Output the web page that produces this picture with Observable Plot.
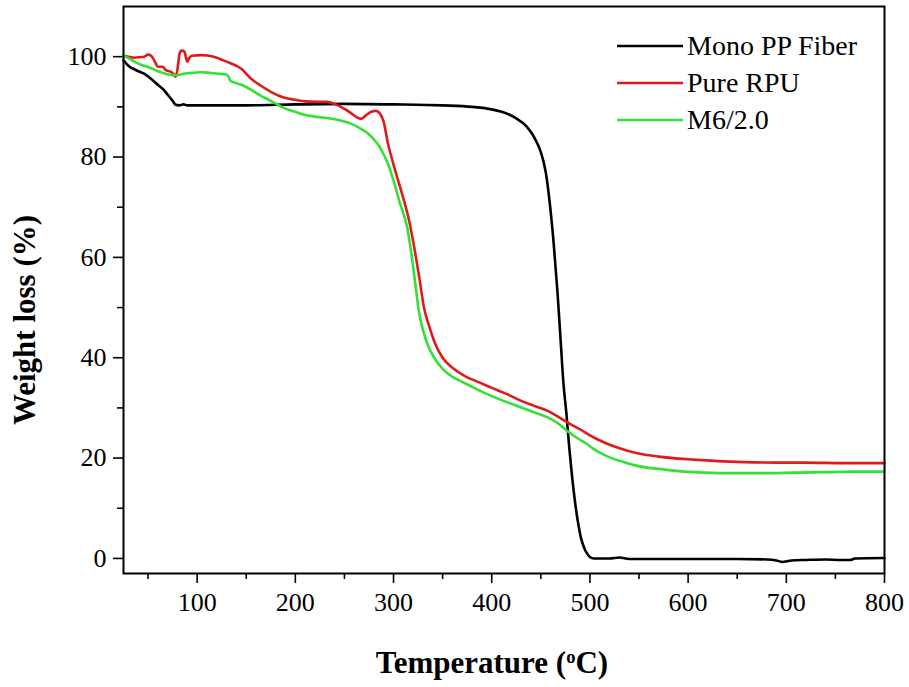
<!DOCTYPE html>
<html><head><meta charset="utf-8">
<script src="https://cdn.jsdelivr.net/npm/d3@7"></script>
<script src="https://cdn.jsdelivr.net/npm/@observablehq/plot@0.6"></script>
<style>
body{margin:0;background:#fff;}
#wrap{position:relative;width:909px;height:687px;font-family:"Liberation Serif","DejaVu Serif","Noto Serif",Tinos,"Times New Roman",Times,serif;}
#legend{position:absolute;left:617px;top:27px;font-size:28px;color:#000;}
#legend .row{display:flex;align-items:center;height:37px;}
#legend svg{display:block;margin-right:4px;}
</style></head><body><div id="wrap"><div id="legend"></div></div>
<script>
const seriesNames = ["Mono PP Fiber", "Pure RPU", "M6/2.0"];
const seriesColors = ["#000000", "#dc1c1c", "#35e035"];
const xTicks = [100, 200, 300, 400, 500, 600, 700, 800];
const xMinor = [50, 150, 250, 350, 450, 550, 650, 750];
const yTicks = [0, 20, 40, 60, 80, 100];
const yMinor = [10, 30, 50, 70, 90];
const xTitleParts = ["Temperature (", "o", "C)"];
const yTitle = "Weight loss (%)";
const fontStack = "'Liberation Serif', 'DejaVu Serif', 'Noto Serif', Tinos, 'Times New Roman', Times, serif";

const monoPP = [[25,99.3],[30,98.2],[38,97.3],[46,96.6],[53,95.6],[60,94.4],[66,93.4],[70,92.4],[75,91.2],[78,90.4],[82,90.3],[86,90.5],[90,90.3],[100,90.3],[150,90.3],[200,90.5],[250,90.6],[300,90.5],[350,90.3],[380,90.0],[400,89.5],[415,88.7],[425,87.7],[435,86.2],[443,84],[450,81],[455,77],[459,71],[463,63],[467,53],[470,44],[473,35],[476,29],[479,22],[482,16],[485,11],[488,7],[491,4],[494,2.2],[497,1.0],[500,0.3],[504,0],[520,0],[530,0.2],[540,-0.1],[600,-0.1],[650,-0.1],[680,-0.2],[690,-0.4],[696,-0.7],[705,-0.4],[720,-0.3],[740,-0.2],[755,-0.3],[765,-0.3],[770,0],[800,0.1]];

const pureRPU = [[25,100.2],[30,100],[36,99.8],[42,99.9],[46,100],[50,100.4],[53,100.2],[57,99],[60,98],[65,98],[68,97.3],[73,97],[76,96.5],[78,96],[80,97.5],[82,100.5],[84,101.2],[87,101],[89,99.5],[90,99],[92,99.8],[95,100.2],[104,100.3],[117,100],[125,99.4],[134,98.7],[145,97.6],[155,95.6],[165,94.2],[175,93],[189,91.8],[200,91.4],[210,91.1],[222,91],[232,91],[241,90.5],[250,89.6],[257,88.7],[262,88],[267,87.6],[272,88.3],[277,89],[282,89.2],[286,88.7],[290,87],[294,83],[300,78.5],[307,73.8],[316,67.2],[322,61],[327,55],[331,50],[336,46.5],[342,43],[350,40],[360,38],[374,36.2],[386,35.2],[400,34],[415,32.8],[430,31.4],[445,30.3],[457,29.4],[467,28.3],[477,27.1],[490,25.7],[504,24.1],[517,22.9],[531,21.9],[545,21.1],[555,20.7],[570,20.3],[590,19.9],[606,19.7],[630,19.4],[657,19.2],[690,19.1],[718,19.1],[760,19],[800,19]];

const m6 = [[25,100.2],[32,99.5],[39,98.7],[46,98.2],[53,97.7],[60,97.1],[66,96.7],[72,96.4],[78,96.3],[84,96.5],[90,96.7],[97,96.8],[104,96.9],[112,96.8],[121,96.6],[128,96.5],[131,96.3],[134,95.2],[140,94.7],[145,94.4],[155,93.4],[165,92.2],[175,91.2],[188,89.8],[200,89],[212,88.3],[222,88],[235,87.7],[246,87.3],[256,86.7],[266,85.7],[274,84.7],[280,83.5],[285,82.3],[290,80.5],[295,78.3],[300,75.3],[307,70.5],[314,65.9],[318,61],[322,55],[326,49],[330,45.5],[335,42.5],[342,39.8],[350,37.8],[360,36.2],[369,35.3],[382,34],[396,32.7],[412,31.4],[430,30.1],[445,29],[457,28.1],[467,27],[477,25.4],[487,24],[497,22.8],[504,21.8],[515,20.6],[531,19.4],[545,18.6],[558,18.1],[572,17.8],[590,17.4],[606,17.2],[640,17],[674,17],[710,17.1],[742,17.2],[770,17.3],[800,17.3]];

const seriesData = [monoPP, pureRPU, m6];

const chart = Plot.plot({
  width: 909, height: 687,
  marginLeft: 123, marginRight: 25, marginTop: 6, marginBottom: 114,
  style: {fontFamily: fontStack, fontSize: "26px", color: "#000", background: "#fff"},
  x: {domain: [25, 800]},
  y: {domain: [-3, 110]},
  marks: [
    Plot.axisX(xMinor, {tickSize: 6, strokeWidth: 1.6, tickFormat: () => "", label: null}),
    Plot.axisX(xTicks, {tickSize: 10, tickPadding: 9, strokeWidth: 1.6, fontSize: 26, label: null}),
    Plot.axisY(yMinor, {tickSize: 6, strokeWidth: 1.6, tickFormat: () => "", label: null}),
    Plot.axisY(yTicks, {tickSize: 10, tickPadding: 7, strokeWidth: 1.6, fontSize: 26, label: null}),
    ...seriesData.map((s, i) => Plot.line(s, {x: d => d[0], y: d => d[1], stroke: seriesColors[i], strokeWidth: 2.6, curve: "monotone-x"})),
    Plot.frame({stroke: "#000", strokeWidth: 2}),
    Plot.text([xTitleParts.join("")], {text: d => d, frameAnchor: "bottom", textAnchor: "middle", lineAnchor: "middle", dy: 90, dx: -12, fontSize: 31, fontWeight: "bold"}),
    Plot.text([yTitle], {text: d => d, frameAnchor: "left", textAnchor: "middle", lineAnchor: "middle", dx: -98, dy: 30, rotate: -90, fontSize: 31, fontWeight: "bold"})
  ]
});

document.getElementById("wrap").prepend(chart);

// superscript "o" in the x title
d3.select(chart).selectAll("text").filter(function() { return this.textContent === xTitleParts.join(""); }).each(function() {
  const t = d3.select(this);
  t.text(null);
  t.append("tspan").text(xTitleParts[0]);
  t.append("tspan").attr("baseline-shift", "super").attr("font-size", "60%").text(xTitleParts[1]);
  t.append("tspan").text(xTitleParts[2]);
});

// legend
const leg = d3.select("#legend");
seriesNames.forEach((name, i) => {
  const row = leg.append("div").attr("class", "row");
  const sv = row.append("svg").attr("width", 66).attr("height", 6);
  sv.append("line").attr("x1", 0).attr("x2", 66).attr("y1", 3).attr("y2", 3).attr("stroke", seriesColors[i]).attr("stroke-width", 2.6);
  row.append("span").text(name);
});
</script>
</body></html>
